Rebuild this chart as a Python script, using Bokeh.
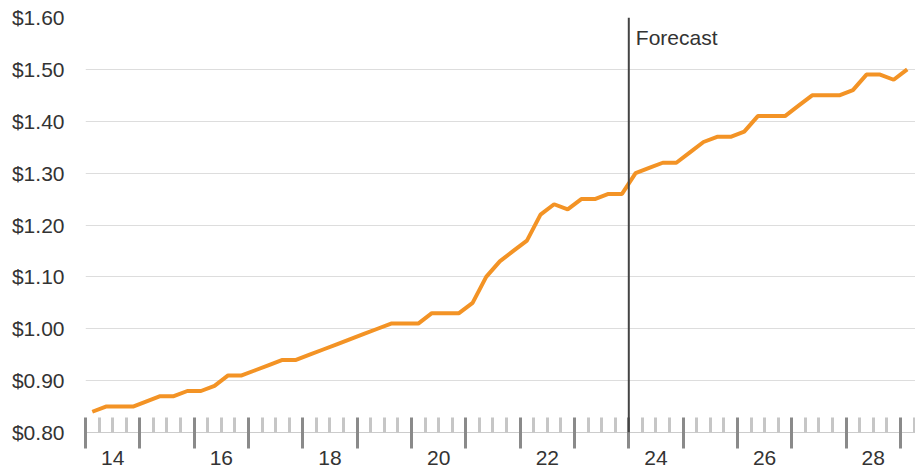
from bokeh.plotting import figure
from bokeh.models import (FixedTicker, LinearAxis, NumeralTickFormatter, Span,
                          Label, Range1d, CustomLabelingPolicy)
from bokeh.embed import file_html
from bokeh.resources import INLINE

# ---- data ----
start_year = 2014
end_year = 2029
prices = [
    0.84, 0.85, 0.85, 0.85,   # 2014
    0.86, 0.87, 0.87, 0.88,   # 2015
    0.88, 0.89, 0.91, 0.91,   # 2016
    0.92, 0.93, 0.94, 0.94,   # 2017
    0.95, 0.96, 0.97, 0.98,   # 2018
    0.99, 1.00, 1.01, 1.01,   # 2019
    1.01, 1.03, 1.03, 1.03,   # 2020
    1.05, 1.10, 1.13, 1.15,   # 2021
    1.17, 1.22, 1.24, 1.23,   # 2022
    1.25, 1.25, 1.26, 1.26,   # 2023
    1.30, 1.31, 1.32, 1.32,   # 2024
    1.34, 1.36, 1.37, 1.37,   # 2025
    1.38, 1.41, 1.41, 1.41,   # 2026
    1.43, 1.45, 1.45, 1.45,   # 2027
    1.46, 1.49, 1.49, 1.48,   # 2028
    1.50,                     # 2029
]
year_labels = ["14", "16", "18", "20", "22", "24", "26", "28"]
label_years = [2014, 2016, 2018, 2020, 2022, 2024, 2026, 2028]
y_ticks = [0.80, 0.90, 1.00, 1.10, 1.20, 1.30, 1.40, 1.50, 1.60]
forecast_start = 2024
forecast_text = "Forecast"

# quarter mid-points in fractional years
x = [start_year + (i + 0.5) / 4 for i in range(len(prices))]
year_ticks = list(range(start_year, end_year + 2))
quarter_ticks = [y + q / 4 for y in range(start_year, end_year + 1) for q in (1, 2, 3)]

FONT = "Liberation Sans"
TXT = "#333333"

p = figure(width=915, height=469,
           x_range=Range1d(start_year, start_year + 830 / 54.33),
           y_range=Range1d(0.80, 1.60),
           output_backend="svg", toolbar_location=None,
           min_border_left=85, min_border_right=0,
           min_border_top=17, min_border_bottom=37)
p.outline_line_color = None
p.background_fill_color = "white"
p.border_fill_color = "white"

# x axis with year / quarter ticks (no labels)
xa = p.xaxis[0]
xa.ticker = FixedTicker(ticks=year_ticks, minor_ticks=quarter_ticks)
xa.axis_line_color = "#cccccc"
xa.axis_line_width = 1
xa.major_tick_line_color = "#8a8a8a"
xa.major_tick_line_width = 3
xa.major_tick_in = 15
xa.major_tick_out = 16
xa.minor_tick_line_color = "#c6c6c6"
xa.minor_tick_line_width = 3
xa.minor_tick_in = 15
xa.minor_tick_out = 0
xa.major_label_policy = CustomLabelingPolicy(code="return []")
xa.major_label_text_font_size = "1px"
xa.major_label_standoff = 0

# label axis for year labels centred in each year
label_pos = [yr + 0.5 for yr in label_years]
la = LinearAxis(ticker=FixedTicker(ticks=label_pos, minor_ticks=[]),
                major_label_overrides={pos: lab for pos, lab in zip(label_pos, year_labels)})
la.axis_line_color = None
la.major_tick_line_color = None
la.minor_tick_line_color = None
la.major_tick_in = 0
la.major_tick_out = 0
la.major_label_standoff = -2
la.major_label_text_font = FONT
la.major_label_text_font_size = "21px"
la.major_label_text_color = TXT
p.add_layout(la, "below")

# y axis
ya = p.yaxis[0]
ya.ticker = FixedTicker(ticks=y_ticks)
ya.formatter = NumeralTickFormatter(format="$0.00")
ya.axis_line_color = None
ya.major_tick_line_color = None
ya.minor_tick_line_color = None
ya.major_tick_in = 0
ya.major_tick_out = 0
ya.major_label_standoff = 21
ya.major_label_text_font = FONT
ya.major_label_text_font_size = "21px"
ya.major_label_text_color = TXT

p.xgrid.grid_line_color = None
p.ygrid.ticker = FixedTicker(ticks=y_ticks)
p.ygrid.grid_line_color = "#dddddd"
p.ygrid.grid_line_width = 1

p.line(x, prices, line_color="#F39325", line_width=4)

p.add_layout(Span(location=forecast_start, dimension="height",
                  line_color="#444444", line_width=2))
p.add_layout(Label(x=forecast_start, y=1.60, text=forecast_text,
                   x_offset=7, y_offset=-8, text_baseline="top",
                   text_font=FONT, text_font_size="21px", text_color=TXT))

open("out.html", "w").write(file_html(p, INLINE))
